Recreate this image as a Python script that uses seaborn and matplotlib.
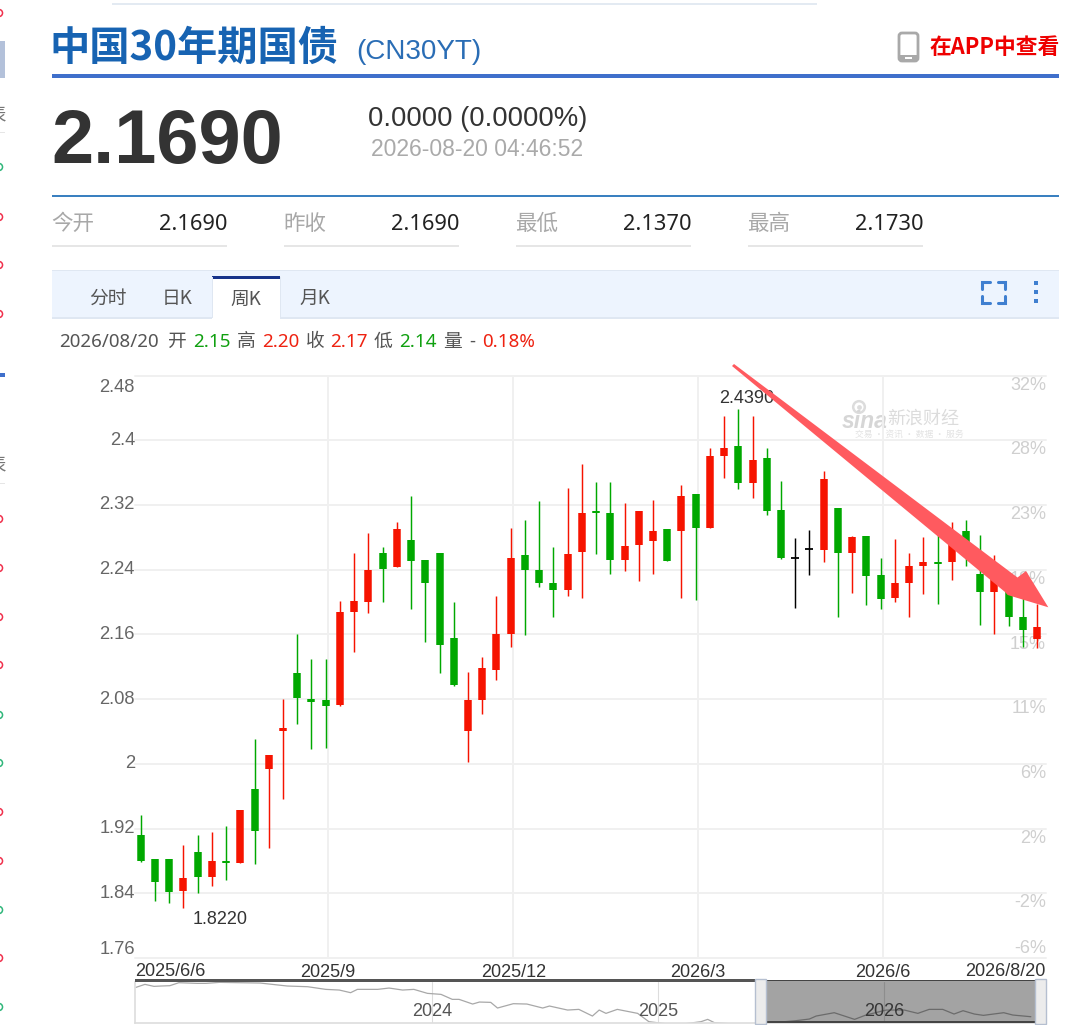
# 中国30年期国债 周K 行情截图

import pandas as pd
import matplotlib
matplotlib.use("Agg")
import matplotlib.pyplot as plt
from matplotlib.patches import Rectangle, Polygon, FancyBboxPatch
from matplotlib.transforms import ScaledTranslation
import seaborn as sns

# ---- 周K数据
opens = [1.912, 1.882, 1.882, 1.843, 1.891, 1.860, 1.880, 1.878, 1.969, 1.994,
         2.041, 2.112, 2.080, 2.079, 2.073, 2.188, 2.200, 2.261, 2.243, 2.277,
         2.252, 2.261, 2.156, 2.041, 2.079, 2.116, 2.160, 2.258, 2.240, 2.224,
         2.215, 2.262, 2.312, 2.310, 2.252, 2.270, 2.275, 2.290, 2.288, 2.333,
         2.292, 2.381, 2.393, 2.347, 2.378, 2.314, 2.255, 2.265, 2.264, 2.316,
         2.260, 2.282, 2.233, 2.205, 2.224, 2.245, 2.250, 2.249, 2.288, 2.235,
         2.213, 2.212, 2.182, 2.154]
highs = [1.937, 1.882, 1.882, 1.900, 1.912, 1.916, 1.923, 1.943, 2.031, 2.011,
         2.080, 2.160, 2.130, 2.130, 2.201, 2.260, 2.285, 2.268, 2.299, 2.331,
         2.252, 2.261, 2.200, 2.114, 2.132, 2.207, 2.291, 2.301, 2.325, 2.268,
         2.341, 2.371, 2.348, 2.348, 2.322, 2.313, 2.326, 2.290, 2.345, 2.333,
         2.390, 2.430, 2.439, 2.430, 2.391, 2.349, 2.279, 2.289, 2.362, 2.316,
         2.281, 2.282, 2.254, 2.278, 2.261, 2.280, 2.286, 2.299, 2.302, 2.283,
         2.258, 2.223, 2.207, 2.198]
lows = [1.879, 1.830, 1.828, 1.822, 1.840, 1.849, 1.856, 1.878, 1.876, 1.896,
        1.957, 2.049, 2.018, 2.019, 2.072, 2.138, 2.186, 2.200, 2.243, 2.191,
        2.151, 2.112, 2.096, 2.002, 2.062, 2.104, 2.145, 2.159, 2.219, 2.182,
        2.207, 2.205, 2.259, 2.235, 2.238, 2.226, 2.235, 2.251, 2.205, 2.203,
        2.291, 2.353, 2.340, 2.328, 2.308, 2.253, 2.193, 2.233, 2.250, 2.181,
        2.211, 2.196, 2.191, 2.200, 2.181, 2.210, 2.198, 2.227, 2.245, 2.171,
        2.161, 2.170, 2.145, 2.143]
closes = [1.880, 1.854, 1.841, 1.859, 1.860, 1.880, 1.877, 1.943, 1.917, 2.011,
          2.044, 2.081, 2.077, 2.071, 2.188, 2.201, 2.240, 2.241, 2.290, 2.251,
          2.224, 2.147, 2.097, 2.079, 2.118, 2.160, 2.254, 2.240, 2.224, 2.215,
          2.259, 2.310, 2.310, 2.252, 2.269, 2.313, 2.288, 2.251, 2.331, 2.292,
          2.380, 2.391, 2.347, 2.376, 2.313, 2.254, 2.255, 2.265, 2.352, 2.260,
          2.280, 2.232, 2.204, 2.224, 2.244, 2.250, 2.247, 2.283, 2.258, 2.213,
          2.235, 2.181, 2.166, 2.169]

y_ticks = [1.76, 1.84, 1.92, 2.0, 2.08, 2.16, 2.24, 2.32, 2.4, 2.48]
y_labels = ["1.76", "1.84", "1.92", "2", "2.08", "2.16", "2.24", "2.32", "2.4", "2.48"]
pct_labels = ["-6%", "-2%", "2%", "6%", "11%", "15%", "19%", "23%", "28%", "32%"]
date_ticks = [13.18, 26.18, 39.18, 52.18]
date_labels = ["2025/9", "2025/12", "2026/3", "2026/6"]
first_date = "2025/6/6"
last_date = "2026/8/20"

# 底部缩略图
nav_years = [2022.69, 2022.73, 2022.77, 2022.80, 2022.84, 2022.88, 2022.96, 2023.00, 2023.06,
             2023.24, 2023.36, 2023.45, 2023.53, 2023.59, 2023.64, 2023.67, 2023.76, 2023.81,
             2023.87, 2023.92, 2023.98, 2024.04, 2024.09, 2024.12, 2024.18, 2024.21, 2024.26,
             2024.29, 2024.36, 2024.42, 2024.49, 2024.52, 2024.60, 2024.65, 2024.71, 2024.74,
             2024.77, 2024.82, 2024.91, 2024.96, 2025.08, 2025.19, 2025.22, 2025.25, 2025.40,
             2025.61, 2025.67, 2025.70, 2025.78, 2025.87, 2025.92, 2026.01, 2026.09, 2026.15,
             2026.20, 2026.26, 2026.31, 2026.35, 2026.40, 2026.44, 2026.53, 2026.57, 2026.65]
nav_values = [3.576, 3.734, 3.629, 3.647, 3.664, 3.822, 3.787, 3.787, 3.840,
              3.804, 3.647, 3.611, 3.471, 3.436, 3.296, 3.471, 3.471, 3.541,
              3.436, 3.471, 3.261, 3.208, 2.945, 2.945, 2.699, 2.804, 2.787,
              2.489, 2.717, 2.699, 2.489, 2.594, 2.383, 2.418, 2.068, 2.383,
              2.208, 2.418, 2.208, 1.769, 1.600, 1.769, 1.892, 1.717, 1.600,
              1.822, 1.910, 2.068, 2.243, 1.892, 2.120, 2.383, 2.383, 2.208,
              2.418, 2.418, 2.173, 2.348, 2.173, 2.103, 2.243, 2.120, 2.032]
nav_year_ticks = [2024, 2025, 2026]

# 行情头部
title = "中国30年期国债"
code = "(CN30YT)"
price = "2.1690"
change = "0.0000 (0.0000%)"
stamp = "2026-08-20 04:46:52"
stat_names = ["今开", "昨收", "最低", "最高"]
stat_values = ["2.1690", "2.1690", "2.1370", "2.1730"]
tabs = ["分时", "日K", "周K", "月K"]

RED = "#f61300"
GREEN = "#00a800"
LATIN = ["Liberation Sans", "Noto Sans CJK SC"]
CJK = ["Noto Sans CJK SC", "Liberation Sans"]

sns.set_theme(style="white")
plt.rcParams["font.family"] = LATIN

# ---- 整理成长表
df = pd.DataFrame({"open": opens, "high": highs, "low": lows, "close": closes})
df["candle"] = df.index
df["colour"] = "flat"
df.loc[df["close"] > df["open"], "colour"] = "up"
df.loc[df["close"] < df["open"], "colour"] = "down"
palette = {"up": RED, "down": GREEN, "flat": "black"}

wicks = df.melt(id_vars=["candle", "colour"], value_vars=["high", "low"], value_name="price")
bodies = df.melt(id_vars=["candle", "colour"], value_vars=["open", "close"], value_name="price")

W, H = 1080, 1025
fig = plt.figure(figsize=(W / 100, H / 100), dpi=100, facecolor="white")


def px_axes(x0, y0, x1, y1, zorder):
    # 按截图像素定位坐标轴
    return fig.add_axes([x0 / W, 1 - y1 / H, (x1 - x0) / W, (y1 - y0) / H], zorder=zorder)


# ---- 页面底层（像素坐标）
page = px_axes(0, 0, W, H, 0)
page.set_xlim(0, W)
page.set_ylim(H, 0)
page.axis("off")


def box(x0, y0, x1, y1, color, ax=page, **kw):
    ax.add_patch(Rectangle((x0, y0), x1 - x0, y1 - y0, facecolor=color, edgecolor="none", **kw))


def label(x, y, s, size, color, ha="left", family=CJK, weight="normal", ax=page, **kw):
    ax.text(x, y, s, fontsize=size, color=color, ha=ha, va="center", family=family,
            fontweight=weight, **kw)


# 页面左边被截断的部分
box(112, 3, 817, 5, "#e3eaf2")
box(0, 41, 5, 78, "#b3c1da")
box(0, 373, 5, 377, "#3f6fcb")
box(0, 132, 5, 133, "#e6e6e6")
box(0, 483, 5, 484, "#e6e6e6")
label(-14, 116, "表", 14, "#777777")
label(-14, 466, "表", 14, "#777777")
page.scatter([-1] * 11, [13, 217, 265, 314, 519, 568, 617, 665, 812, 861, 958], s=26,
             facecolors="none", edgecolors="#f0304c", linewidths=1.1)
page.scatter([-1] * 5, [167, 715, 763, 910, 1007], s=26,
             facecolors="none", edgecolors="#2fb67a", linewidths=1.1)

# 标题
label(49.5, 48, title, 29, "#1763b2", weight="bold")
label(356, 52, code, 20, "#2a6db5", family=LATIN)
box(52, 74, 1059, 78, "#3f6fcb")
page.add_patch(FancyBboxPatch((900, 34), 17, 26, boxstyle="round,pad=1,rounding_size=3",
                              facecolor="white", edgecolor="#a9a9a9", linewidth=2))
box(899, 55, 918, 61, "#a9a9a9")
box(905, 57, 912, 58.5, "white")
label(930, 48, "在APP中查看", 15.7, "#ee0000", weight="bold")

# 价格
label(51, 143, price, 54.5, "#333333", family=LATIN, weight="bold")
label(368, 119, change, 19.8, "#333333", family=LATIN)
label(371, 150, stamp, 16.5, "#aaaaaa", family=LATIN)
box(52, 195, 1059, 196.5, "#3a80c0")

# 今开 昨收 最低 最高
for i in range(4):
    x0 = 52 + 232 * i
    label(x0 - 1, 224, stat_names[i], 15.5, "#a8a8a8")
    label(x0 + 175.5, 224, stat_values[i], 15.7, "#222222", ha="right", family=["Noto Sans"])
    box(x0, 244.5, x0 + 175, 246.5, "#e6e6e6")

# 周期标签栏
box(52, 270, 1059, 318, "#edf4fe")
box(52, 270, 1059, 271, "#dfe7f2")
box(52, 317, 1059, 318.5, "#dfe7f2")
box(212, 277, 280, 319, "white")
box(212, 275.5, 280, 278.5, "#17338a")
box(279.5, 277, 280.5, 318, "#dfe7f2")
box(212, 277, 213, 318, "#dfe7f2")
for x, y, s in zip([89, 162, 230, 299], [298.5, 298.5, 299.5, 298.5], tabs):
    label(x, y, s, 13.5, "#555555")
for xs, ys in [([982, 982, 990], [289, 282, 282]), ([998, 1005, 1005], [282, 282, 289]),
               ([982, 982, 990], [296, 303, 303]), ([998, 1005, 1005], [303, 303, 296])]:
    page.plot(xs, ys, color="#3f7fd0", lw=2.2, solid_joinstyle="miter")
for y in [283, 292, 301]:
    box(1033.5, y - 2.2, 1038, y + 2.2, "#3f7fd0")

# 当日数据行
info = [(59, "2026/08/20", "#555555"), (168, "开", "#555555"), (193, "2.15", "#10a010"),
        (237, "高", "#555555"), (262, "2.20", "#ee2211"), (306, "收", "#555555"),
        (330, "2.17", "#ee2211"), (374, "低", "#555555"), (399, "2.14", "#10a010"),
        (443, "量", "#555555"), (469, "-", "#555555"), (482, "0.18%", "#ee2211")]
for x, s, c in info:
    label(x, 342, s, 13.5, c, family=["Noto Sans", "Noto Sans CJK SC"])

# 新浪财经水印
page.scatter([859], [407], s=70, facecolors="none", edgecolors="#dcdcdc", linewidths=1.8)
page.scatter([859], [407], s=12, color="#dcdcdc", linewidths=0)
label(842, 421, "sina", 16.5, "#d6d6d6", family=LATIN, weight="bold", style="italic")
label(887, 419, "新浪财经", 13, "#dcdcdc")
label(855, 434, "交易 · 资讯 · 数据 · 服务", 6.3, "#e2e2e2")

# ---- K线主图
ax = px_axes(135, 375.5, 1046, 958, 1)
ax.patch.set_alpha(0)
sns.lineplot(data=wicks, x="candle", y="price", hue="colour", palette=palette, units="candle",
             estimator=None, lw=1.05, legend=False, ax=ax, solid_capstyle="butt", zorder=3)
sns.lineplot(data=bodies, x="candle", y="price", hue="colour", palette=palette, units="candle",
             estimator=None, lw=5.4, legend=False, ax=ax, solid_capstyle="butt", zorder=3)
flat = df[df["colour"] == "flat"]
sns.scatterplot(data=flat, x="candle", y="close", marker="_", s=34, color="black",
                linewidth=1.3, legend=False, ax=ax, zorder=3)

ax.set_xlim(-0.40, 63.62)
ax.set_ylim(1.76, 2.48)
ax.set_xlabel("")
ax.set_ylabel("")
sns.despine(ax=ax, left=True, bottom=True)
ax.set_yticks(y_ticks)
ax.set_yticklabels(y_labels, fontsize=13.2, color="#666666")
ax.set_xticks(date_ticks)
ax.set_xticklabels(date_labels, fontsize=13, color="#333333")
ax.tick_params(axis="y", length=0, pad=0)
ax.tick_params(axis="x", length=0, pad=4)
ax.grid(True, color="#f0f0f0", lw=1.4, zorder=0)
ax.set_axisbelow(True)
for line in ax.get_ygridlines():
    line.set_clip_on(False)

# 最上最下两个刻度挪进图内，其余略微上移
ylabs = ax.get_yticklabels()
ylabs[0].set_va("bottom")
ylabs[-1].set_va("top")
for lab in ylabs[1:-1]:
    lab.set_transform(lab.get_transform() + ScaledTranslation(0, 1.5 / 72, fig.dpi_scale_trans))
ylabs[-1].set_transform(ylabs[-1].get_transform() + ScaledTranslation(0, -2.5 / 72, fig.dpi_scale_trans))

# 区间起止日期
ax.annotate(first_date, xy=(0, 0), xycoords="axes fraction", xytext=(0, -9.5), textcoords="offset points",
            ha="left", va="center", fontsize=13, color="#333333")
ax.annotate(last_date, xy=(1, 0), xycoords="axes fraction", xytext=(0, -9.5), textcoords="offset points",
            ha="right", va="center", fontsize=13, color="#333333")

# 最高最低标注
ax.text(42.6, 2.452, "2.4390", fontsize=13, color="#333333", ha="center", va="center", zorder=5)
ax.text(5.6, 1.808, "1.8220", fontsize=13, color="#333333", ha="center", va="center", zorder=5)

# 右侧涨跌幅
for tick, pct in zip(y_ticks, pct_labels):
    offset = 7 if pct == "-6%" else -7
    ax.annotate(pct, xy=(1, tick), xycoords=("axes fraction", "data"), xytext=(0, offset),
                textcoords="offset points", ha="right", va="center", fontsize=13,
                color="#cfcfcf", zorder=1)

# ---- 底部缩略图
nav = px_axes(135, 982, 1046, 1023, 1)
nav.patch.set_alpha(0)
nav.set_xlim(2022.686, 2026.717)
nav.set_ylim(1.701, 3.859)
sns.lineplot(x=nav_years, y=nav_values, color="#a8a8a8", lw=0.9, ax=nav, legend=False)
nav.set_xticks(nav_year_ticks)
nav.set_xticklabels([])
nav.set_yticks([])
nav.tick_params(length=0)
nav.grid(True, axis="x", color="#dddddd", lw=0.8)
nav.set_axisbelow(True)
for year in nav_year_ticks:
    nav.text(year, 2.3, str(year), fontsize=13, color="#555555", ha="center", va="center")
sns.despine(ax=nav, top=True)
for side in ["left", "right", "bottom"]:
    nav.spines[side].set_color("#dddddd")
    nav.spines[side].set_linewidth(1.2)

# ---- 覆盖层：选区和箭头
top = px_axes(0, 0, W, H, 3)
top.set_xlim(0, W)
top.set_ylim(H, 0)
top.axis("off")
box(135, 979, 755, 981.5, "#555555", ax=top)
box(766, 980, 1035, 1022, "black", ax=top, alpha=0.36)
box(766, 979.5, 1035, 981, "#444444", ax=top)
box(766, 1021, 1035, 1022.5, "#444444", ax=top)
for x0 in [755, 1035]:
    top.add_patch(Rectangle((x0, 979), 11, 45, facecolor="#ececec", edgecolor="#b5bfd0", linewidth=1))

top.add_patch(Polygon([(732, 366), (734, 364), (1017.5, 577.5), (1026, 571), (1048.3, 607.3),
                       (1007.7, 595), (1005, 592)],
                      closed=True, facecolor="#ff5a5f", edgecolor="none"))

fig.savefig("out.png", dpi=100)
